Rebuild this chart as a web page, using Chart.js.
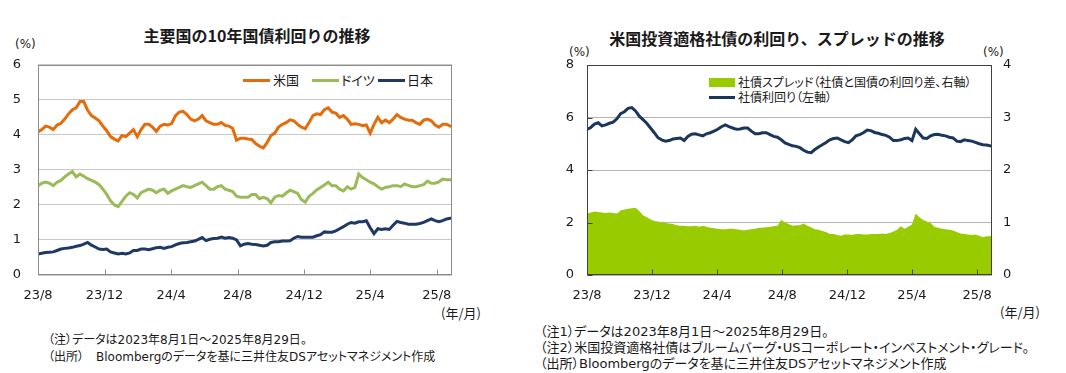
<!DOCTYPE html>
<html lang="ja">
<head>
<meta charset="utf-8">
<script src="https://cdn.jsdelivr.net/npm/chart.js@4.4.1/dist/chart.umd.min.js"></script>
<style>
  body { margin: 0; width: 1066px; height: 373px; background: #fff; position: relative; overflow: hidden;
         font-family: "DejaVu Sans", "Noto Sans CJK JP", sans-serif; color: #1a1a1a; }
  .abs { position: absolute; white-space: nowrap; line-height: 1; }
  .jp { font-family: "Noto Sans CJK JP", sans-serif; font-feature-settings: "palt"; }
  .note { font-family: "DejaVu Sans", "Noto Sans CJK JP", sans-serif; font-feature-settings: "palt"; }
  .title { font-family: "Noto Sans CJK JP", sans-serif; font-weight: bold; font-size: 16px; text-align: center; }
  .swatch { position: absolute; }
  canvas { position: absolute; }
</style>
</head>
<body>

<!-- left chart texts -->
<div class="abs title" style="left:0; width:514px; top:27px;">主要国の10年国債利回りの推移</div>
<div class="abs" style="left:15px; top:38px; font-size:12px;">(%)</div>
<div class="swatch" style="left:243px; top:79px; width:27px; height:3px; background:#E46C0A;"></div>
<div class="abs jp" style="left:273px; top:73px; font-size:13px;">米国</div>
<div class="swatch" style="left:312px; top:79px; width:27px; height:3px; background:#9BBB59;"></div>
<div class="abs jp" style="left:341px; top:73px; font-size:13px;">ドイツ</div>
<div class="swatch" style="left:378px; top:79px; width:27px; height:3px; background:#1F3864;"></div>
<div class="abs jp" style="left:407px; top:73px; font-size:13px;">日本</div>
<div class="abs jp" style="left:441px; top:306px; font-size:13px;">(年/月)</div>
<div class="abs note" style="left:48px; top:334px; font-size:12px;">（注）データは2023年8月1日～2025年8月29日。</div>
<div class="abs note" style="left:48px; top:351px; font-size:12px;">（出所）　Bloombergのデータを基に三井住友DSアセットマネジメント作成</div>

<!-- right chart texts -->
<div class="abs title" style="left:527px; width:500px; top:30px;">米国投資適格社債の利回り、スプレッドの推移</div>
<div class="abs" style="left:569px; top:46px; font-size:12px;">(%)</div>
<div class="abs" style="left:983px; top:46px; font-size:12px;">(%)</div>
<div class="swatch" style="left:709px; top:78px; width:26px; height:9px; background:#99CC00;"></div>
<div class="abs jp" style="left:738px; top:76px; font-size:12px;">社債スプレッド（社債と国債の利回り差、右軸）</div>
<div class="swatch" style="left:709px; top:96px; width:26px; height:3px; background:#1B365D;"></div>
<div class="abs jp" style="left:738px; top:91px; font-size:12px;">社債利回り（左軸）</div>
<div class="abs jp" style="left:1000px; top:305px; font-size:13px;">(年/月)</div>
<div class="abs note" style="left:540px; top:325px; font-size:13px;">（注1）データは2023年8月1日～2025年8月29日。</div>
<div class="abs note" style="left:540px; top:341px; font-size:13px;">（注2）米国投資適格社債はブルームバーグ・USコーポレート・インベストメント・グレード。</div>
<div class="abs note" style="left:540px; top:357px; font-size:13px;">（出所）Bloombergのデータを基に三井住友DSアセットマネジメント作成</div>

<canvas id="govChart" width="530" height="270" style="left:0; top:40px;"></canvas>
<canvas id="corpChart" width="536" height="270" style="left:530px; top:40px;"></canvas>

<script>
// ============================================
// DATA (days since 2023-08-01, weekly readings)
// ============================================
const tickDays = [0, 122, 244, 366, 488, 609, 731];
const tickLabels = ['23/8', '23/12', '24/4', '24/8', '24/12', '25/4', '25/8'];

const days = [
  0, 7, 14, 21, 28, 35, 42, 49, 56, 63, 70, 77, 84, 91, 98, 105, 112, 119, 126, 133,
  140, 147, 154, 161, 168, 175, 182, 189, 196, 203, 210, 217, 224, 231, 238, 245, 252, 259, 266, 273,
  280, 287, 294, 301, 308, 315, 322, 329, 336, 343, 350, 357, 364, 371, 378, 385, 392, 399, 406, 413,
  420, 427, 434, 441, 448, 455, 462, 469, 476, 483, 490, 497, 504, 511, 518, 525, 532, 539, 546, 553,
  560, 567, 574, 581, 588, 595, 602, 609, 616, 623, 630, 637, 644, 651, 658, 665, 672, 679, 686, 693,
  700, 707, 714, 721, 728, 735, 742, 749, 756, 759
];

const usYield = [
  4.08, 4.15, 4.25, 4.22, 4.15, 4.28, 4.33, 4.45, 4.60, 4.72, 4.77, 4.95, 4.95, 4.70, 4.55, 4.48, 4.40, 4.25, 4.12, 3.95,
  3.88, 3.83, 3.98, 3.95, 4.05, 4.15, 3.95, 4.15, 4.30, 4.30, 4.22, 4.10, 4.25, 4.30, 4.28, 4.32, 4.55, 4.65, 4.67, 4.58,
  4.45, 4.40, 4.45, 4.55, 4.40, 4.35, 4.30, 4.30, 4.35, 4.27, 4.25, 4.18, 3.85, 3.90, 3.90, 3.88, 3.87, 3.75, 3.68, 3.63,
  3.78, 3.98, 4.05, 4.22, 4.30, 4.35, 4.43, 4.40, 4.30, 4.22, 4.18, 4.35, 4.55, 4.60, 4.58, 4.72, 4.77, 4.65, 4.62, 4.50,
  4.55, 4.45, 4.30, 4.32, 4.30, 4.26, 4.28, 4.05, 4.30, 4.50, 4.35, 4.42, 4.35, 4.45, 4.58, 4.50, 4.45, 4.42, 4.42, 4.35,
  4.30, 4.42, 4.45, 4.40, 4.28, 4.22, 4.30, 4.30, 4.25, 4.24
];

const deYield = [
  2.55, 2.62, 2.65, 2.62, 2.55, 2.65, 2.70, 2.80, 2.88, 2.95, 2.80, 2.88, 2.82, 2.75, 2.70, 2.65, 2.58, 2.45, 2.30, 2.12,
  2.00, 1.95, 2.10, 2.25, 2.35, 2.30, 2.20, 2.35, 2.40, 2.45, 2.42, 2.35, 2.42, 2.45, 2.33, 2.40, 2.45, 2.50, 2.55, 2.52,
  2.50, 2.55, 2.60, 2.65, 2.55, 2.45, 2.45, 2.52, 2.55, 2.45, 2.42, 2.38, 2.25, 2.22, 2.22, 2.22, 2.30, 2.30, 2.18, 2.22,
  2.18, 2.06, 2.22, 2.27, 2.25, 2.34, 2.42, 2.38, 2.33, 2.15, 2.08, 2.25, 2.33, 2.43, 2.50, 2.57, 2.65, 2.55, 2.55, 2.45,
  2.40, 2.52, 2.45, 2.50, 2.88, 2.78, 2.72, 2.65, 2.60, 2.52, 2.45, 2.50, 2.52, 2.55, 2.55, 2.52, 2.60, 2.56, 2.52, 2.52,
  2.55, 2.58, 2.68, 2.62, 2.62, 2.66, 2.74, 2.72, 2.72, 2.70
];

const jpYield = [
  0.60, 0.62, 0.64, 0.65, 0.66, 0.70, 0.74, 0.76, 0.77, 0.79, 0.82, 0.84, 0.88, 0.93, 0.85, 0.80, 0.74, 0.73, 0.74, 0.66,
  0.63, 0.60, 0.62, 0.60, 0.63, 0.70, 0.70, 0.74, 0.74, 0.72, 0.75, 0.78, 0.79, 0.76, 0.79, 0.81, 0.86, 0.90, 0.92, 0.93,
  0.95, 0.97, 1.02, 1.07, 0.98, 1.02, 1.04, 1.05, 1.08, 1.05, 1.07, 1.05, 1.00, 0.83, 0.88, 0.90, 0.88, 0.87, 0.85, 0.83,
  0.85, 0.93, 0.95, 0.95, 0.97, 0.97, 0.98, 1.05, 1.10, 1.08, 1.08, 1.08, 1.08, 1.12, 1.15, 1.23, 1.22, 1.22, 1.26, 1.32,
  1.38, 1.45, 1.50, 1.48, 1.52, 1.52, 1.55, 1.35, 1.18, 1.32, 1.30, 1.32, 1.30, 1.42, 1.53, 1.50, 1.48, 1.45, 1.45, 1.45,
  1.47, 1.50, 1.55, 1.60, 1.55, 1.52, 1.55, 1.60, 1.62, 1.62
];

// US investment grade corporate: yield (left axis) and spread (right axis)
const corpYield = [
  5.55, 5.62, 5.75, 5.80, 5.68, 5.72, 5.78, 5.82, 5.95, 6.15, 6.22, 6.35, 6.38, 6.25, 6.05, 5.92, 5.78, 5.60, 5.42, 5.23,
  5.15, 5.10, 5.12, 5.18, 5.20, 5.22, 5.12, 5.28, 5.36, 5.38, 5.34, 5.30, 5.38, 5.42, 5.48, 5.55, 5.65, 5.72, 5.65, 5.60,
  5.55, 5.56, 5.60, 5.60, 5.48, 5.38, 5.38, 5.42, 5.42, 5.35, 5.28, 5.25, 5.15, 5.03, 4.98, 4.92, 4.90, 4.85, 4.75, 4.68,
  4.66, 4.78, 4.88, 4.96, 5.05, 5.15, 5.20, 5.22, 5.15, 5.08, 5.04, 5.15, 5.30, 5.35, 5.42, 5.52, 5.50, 5.43, 5.40, 5.35,
  5.32, 5.25, 5.12, 5.12, 5.15, 5.20, 5.22, 5.12, 5.55, 5.38, 5.22, 5.20, 5.30, 5.35, 5.36, 5.32, 5.30, 5.25, 5.22, 5.10,
  5.08, 5.15, 5.12, 5.10, 5.05, 5.00, 4.96, 4.95, 4.92, 4.90
];

const corpSpread = [
  1.17, 1.19, 1.21, 1.20, 1.19, 1.18, 1.19, 1.18, 1.17, 1.23, 1.25, 1.26, 1.27, 1.28, 1.22, 1.14, 1.10, 1.06, 1.03, 1.02,
  1.00, 0.99, 0.98, 0.97, 0.95, 0.94, 0.94, 0.93, 0.93, 0.94, 0.92, 0.94, 0.92, 0.90, 0.89, 0.88, 0.87, 0.87, 0.88, 0.88,
  0.87, 0.86, 0.85, 0.86, 0.87, 0.88, 0.90, 0.90, 0.91, 0.92, 0.93, 0.94, 1.05, 1.00, 0.97, 0.94, 0.95, 0.95, 0.98, 0.94,
  0.91, 0.87, 0.86, 0.84, 0.82, 0.78, 0.78, 0.76, 0.75, 0.77, 0.77, 0.76, 0.78, 0.78, 0.77, 0.77, 0.78, 0.78, 0.78, 0.79,
  0.78, 0.80, 0.83, 0.86, 0.93, 0.88, 0.92, 0.96, 1.17, 1.10, 1.05, 1.02, 0.99, 0.92, 0.90, 0.88, 0.87, 0.86, 0.85, 0.82,
  0.79, 0.78, 0.77, 0.76, 0.77, 0.75, 0.72, 0.74, 0.74, 0.76
];

// ============================================
// HELPERS
// ============================================
const TICK_FONT = { family: 'DejaVu Sans', size: 13 };
const TICK_COLOR = '#1a1a1a';

const toPoints = values => values.map((v, i) => ({ x: days[i], y: v }));

// frame around the plot + short tick marks pointing inward
const frameBox = {
    id: 'frameBox',
    afterDraw(chart, args, opts) {
        const { ctx, chartArea: a } = chart;
        const left = Math.round(a.left) + 0.5;
        const top = Math.round(a.top) + 0.5;
        const right = Math.round(a.right) - 0.5;
        const bottom = Math.round(a.bottom) - 0.5;

        ctx.save();
        ctx.lineWidth = 1;
        ctx.strokeStyle = opts.color;
        ctx.strokeRect(left, top, right - left, bottom - top);

        ctx.beginPath();
        const x = chart.scales.x;
        x.ticks.forEach(t => {
            const px = Math.round(x.getPixelForValue(t.value)) + 0.5;
            ctx.moveTo(px, bottom);
            ctx.lineTo(px, bottom - opts.tick);
        });
        if (opts.yTicks) {
            const y = chart.scales.y;
            y.ticks.forEach(t => {
                const py = Math.round(y.getPixelForValue(t.value)) + 0.5;
                ctx.moveTo(left, py);
                ctx.lineTo(left + opts.tick, py);
            });
        }
        ctx.stroke();
        ctx.restore();
    }
};

const xScale = () => ({
    type: 'linear',
    min: 0,
    max: 759,
    afterBuildTicks: s => { s.ticks = tickDays.map(v => ({ value: v })); },
    afterFit: s => { s.height = 35; },
    ticks: {
        font: TICK_FONT,
        color: TICK_COLOR,
        padding: 13,
        maxRotation: 0,
        autoSkip: false,
        callback: v => tickLabels[tickDays.indexOf(v)]
    },
    grid: { display: false, drawTicks: false },
    border: { display: false }
});

const lineSet = (label, values, color) => ({
    label,
    data: toPoints(values),
    borderColor: color,
    backgroundColor: color,
    borderWidth: 3,
    pointRadius: 0,
    tension: 0,
    fill: false
});

// ============================================
// CHARTS
// ============================================
const Charts = {
    init() {
        this.renderGov();
        this.renderCorp();
    },

    renderGov() {
        new Chart(document.getElementById('govChart'), {
            type: 'line',
            data: {
                datasets: [
                    lineSet('米国', usYield, '#E46C0A'),
                    lineSet('ドイツ', deYield, '#9BBB59'),
                    lineSet('日本', jpYield, '#1F3864')
                ]
            },
            options: {
                responsive: false,
                animation: false,
                devicePixelRatio: 1,
                layout: { padding: { top: 21, right: 78, left: 0, bottom: 0 } },
                plugins: {
                    legend: { display: false },
                    tooltip: { enabled: false },
                    frameBox: { color: '#8c8c8c', tick: 5, yTicks: false }
                },
                scales: {
                    x: xScale(),
                    y: {
                        min: 0,
                        max: 6,
                        afterFit: s => { s.width = 38; },
                        ticks: { stepSize: 1, font: TICK_FONT, color: TICK_COLOR, padding: 17 },
                        grid: { color: '#c8c8c8', drawTicks: false },
                        border: { display: false }
                    }
                }
            },
            plugins: [frameBox]
        });
    },

    renderCorp() {
        const yieldSet = lineSet('社債利回り（左軸）', corpYield, '#1B365D');
        yieldSet.order = 0;
        yieldSet.yAxisID = 'y';

        const spreadSet = {
            label: '社債スプレッド（社債と国債の利回り差、右軸）',
            data: toPoints(corpSpread),
            yAxisID: 'y2',
            order: 1,
            borderWidth: 0,
            borderColor: '#99CC00',
            backgroundColor: '#99CC00',
            pointRadius: 0,
            tension: 0,
            fill: 'origin'
        };

        new Chart(document.getElementById('corpChart'), {
            type: 'line',
            data: { datasets: [yieldSet, spreadSet] },
            options: {
                responsive: false,
                animation: false,
                devicePixelRatio: 1,
                layout: { padding: { top: 25, right: 44, left: 0, bottom: 0 } },
                plugins: {
                    legend: { display: false },
                    tooltip: { enabled: false },
                    filler: { drawTime: 'beforeDatasetsDraw' },
                    frameBox: { color: '#404040', tick: 5, yTicks: true }
                },
                scales: {
                    x: xScale(),
                    y: {
                        position: 'left',
                        min: 0,
                        max: 8,
                        afterFit: s => { s.width = 57; },
                        ticks: { stepSize: 2, font: TICK_FONT, color: TICK_COLOR, padding: 13 },
                        grid: { color: '#b4b4b4', drawTicks: false },
                        border: { display: false }
                    },
                    y2: {
                        position: 'right',
                        min: 0,
                        max: 4,
                        afterFit: s => { s.width = 30; },
                        ticks: { stepSize: 1, font: TICK_FONT, color: TICK_COLOR, padding: 11 },
                        grid: { drawOnChartArea: false, drawTicks: false },
                        border: { display: false }
                    }
                }
            },
            plugins: [frameBox]
        });
    }
};

Charts.init();
</script>
</body>
</html>
